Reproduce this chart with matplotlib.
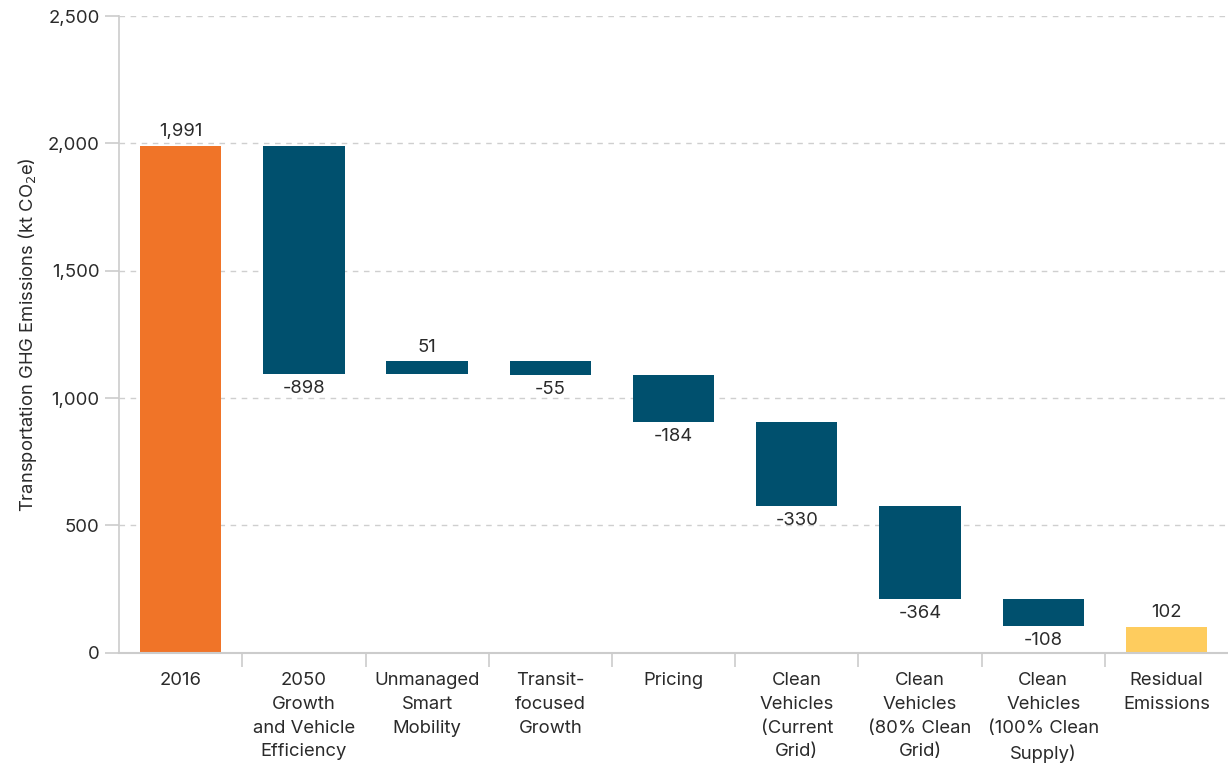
import numpy as np
import matplotlib.pyplot as plt

# Data
categories = ['2016', '2050\nGrowth\nand Vehicle\nEfficiency', 'Unmanaged\nSmart\nMobility',
              'Transit-\nfocused\nGrowth', 'Pricing', 'Clean\nVehicles\n(Current\nGrid)',
              'Clean\nVehicles\n(80% Clean\nGrid)', 'Clean\nVehicles\n(100% Clean\nSupply)',
              'Residual\nEmissions']
start_value = 1991
changes = [-898, 51, -55, -184, -330, -364, -108]
residual = 102

plt.rcParams['font.family'] = ['Inter', 'DejaVu Sans']

orange = '#F07428'
teal = '#00506E'
yellow = '#FECC5E'
grey = '#cccccc'
txt = '#2a2a2a'
fs = 13.3

fig = plt.figure(figsize=(12.28, 7.67), dpi=100)
ax = fig.add_axes([0.097, 0.149, 0.903, 0.83])

x = np.arange(len(categories))
w = 0.66

# first bar
ax.bar(x[0], start_value, width=w, color=orange)
ax.annotate(f'{start_value:,}', (x[0], start_value), xytext=(0, 4), textcoords='offset points',
            ha='center', va='bottom', fontsize=fs, color=txt)

# waterfall steps
level = start_value
for i, c in enumerate(changes):
    xi = x[i + 1]
    bottom = level + c if c < 0 else level
    ax.bar(xi, abs(c), bottom=bottom, width=w, color=teal)
    if c < 0:
        ax.annotate(f'-{abs(c):,}', (xi, level + c), xytext=(0, -4), textcoords='offset points',
                    ha='center', va='top', fontsize=fs, color=txt)
    else:
        ax.annotate(f'{c:,}', (xi, level + c), xytext=(0, 4), textcoords='offset points',
                    ha='center', va='bottom', fontsize=fs, color=txt)
    level += c

# residual
ax.bar(x[-1], residual, width=w, color=yellow)
ax.annotate(f'{residual:,}', (x[-1], residual), xytext=(0, 4), textcoords='offset points',
            ha='center', va='bottom', fontsize=fs, color=txt)

ax.set_xlim(-0.5, len(categories) - 0.5)
ax.set_ylim(0, 2500)
ax.set_yticks(np.arange(0, 2501, 500))
ax.set_yticklabels([f'{v:,}' for v in range(0, 2501, 500)], fontsize=fs, color=txt)
ax.set_ylabel('Transportation GHG Emissions (kt CO$_2$e)', fontsize=fs, color=txt, labelpad=6)

ax.set_xticks(x)
ax.set_xticklabels(categories, fontsize=fs, color=txt, linespacing=1.52, va='top')
ax.tick_params(axis='x', length=0, pad=14)
ax.set_xticks(np.arange(0.5, len(categories) - 1, 1), minor=True)
ax.tick_params(axis='x', which='minor', length=10, color=grey, width=1.2)
ax.tick_params(axis='y', length=10, color=grey, width=1.2, pad=4)

ax.grid(axis='y', linestyle=(0, (4, 4)), color='#cfcfcf', linewidth=1)
ax.set_axisbelow(True)
for s in ['top', 'right']:
    ax.spines[s].set_visible(False)
ax.spines['left'].set_color(grey)
ax.spines['bottom'].set_color(grey)
ax.spines['left'].set_linewidth(1.2)
ax.spines['bottom'].set_linewidth(1.5)

fig.savefig('out.png', dpi=100)
